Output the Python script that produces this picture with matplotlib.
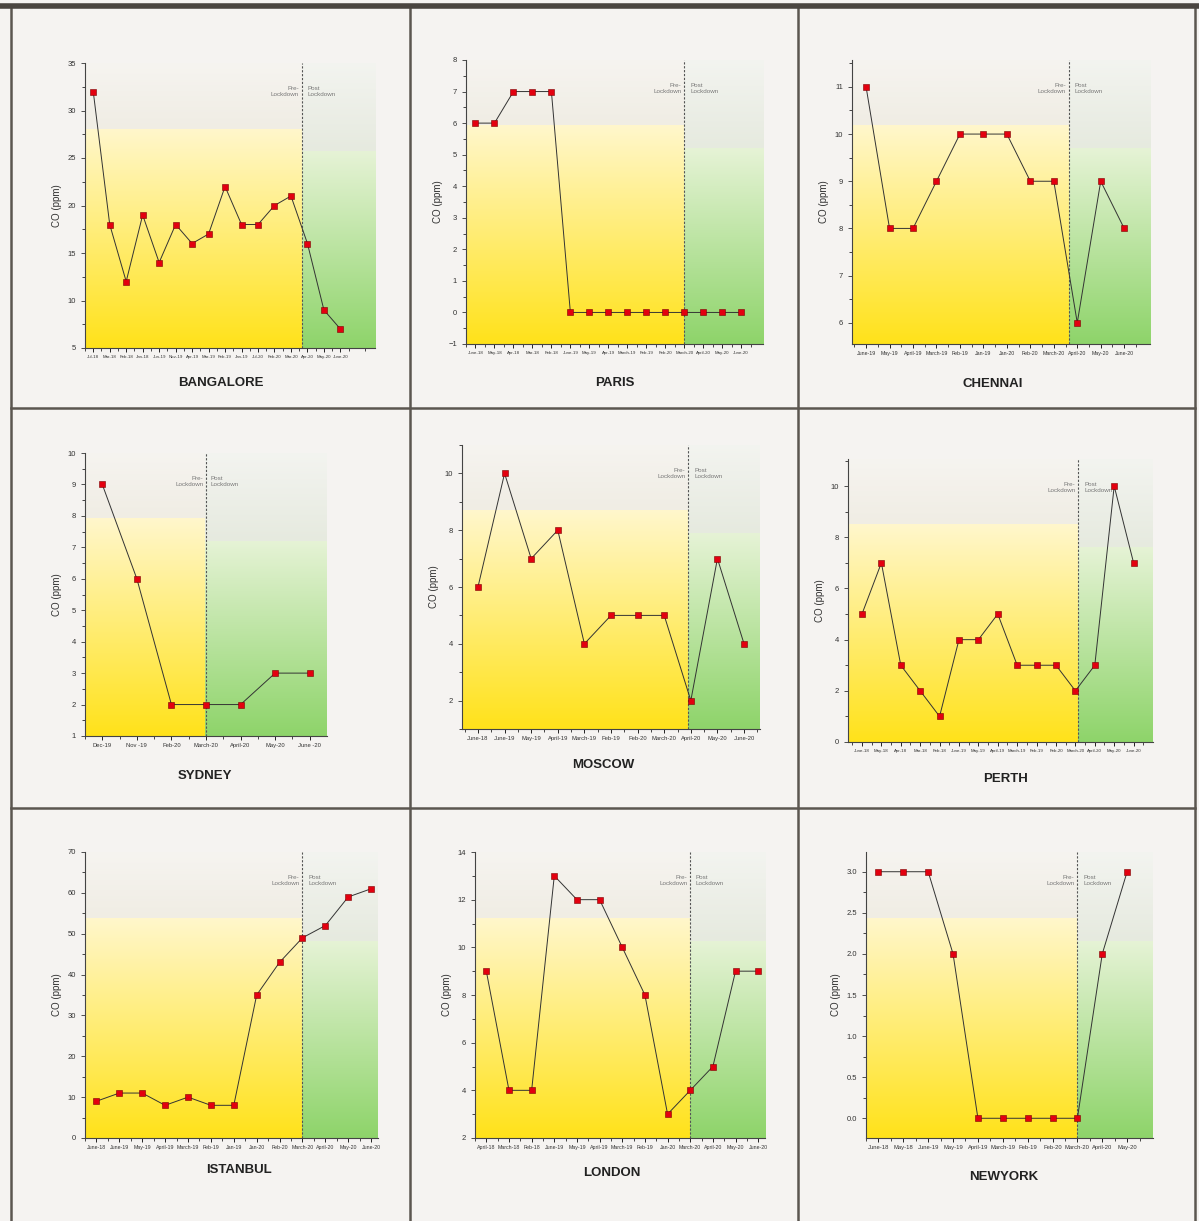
import numpy as np
import matplotlib
matplotlib.use("Agg")
import matplotlib.pyplot as plt
from matplotlib.lines import Line2D

plt.rcParams['font.family'] = ['Liberation Sans Narrow', 'Liberation Sans', 'DejaVu Sans']

W, H = 1199, 1221
BG = '#f5f3f1'

# ---- data per city ----
cities = ['BANGALORE', 'PARIS', 'CHENNAI',
          'SYDNEY', 'MOSCOW', 'PERTH',
          'ISTANBUL', 'LONDON', 'NEWYORK']

bangalore_labels = ['Jul-18', 'Mar-18', 'Feb-18', 'Jan-18', 'Jun-19', 'Nov-19', 'Apr-19', 'Mar-19',
                    'Feb-19', 'Jan-19', 'Jul-20', 'Feb-20', 'Mar-20', 'Apr-20', 'May-20', 'June-20']
bangalore_co = [32, 18, 12, 19, 14, 18, 16, 17, 22, 18, 18, 20, 21, 16, 9, 7]

paris_labels = ['June-18', 'May-18', 'Apr-18', 'Mar-18', 'Feb-18', 'June-19', 'May-19', 'Apr-19',
                'March-19', 'Feb-19', 'Feb-20', 'March-20', 'April-20', 'May-20', 'June-20']
paris_co = [6, 6, 7, 7, 7, 0, 0, 0, 0, 0, 0, 0, 0, 0, 0]

chennai_labels = ['June-19', 'May-19', 'April-19', 'March-19', 'Feb-19', 'Jan-19', 'Jan-20',
                  'Feb-20', 'March-20', 'April-20', 'May-20', 'June-20']
chennai_co = [11, 8, 8, 9, 10, 10, 10, 9, 9, 6, 9, 8]

sydney_labels = ['Dec-19', 'Nov -19', 'Feb-20', 'March-20', 'April-20', 'May-20', 'June -20']
sydney_co = [9, 6, 2, 2, 2, 3, 3]

moscow_labels = ['June-18', 'June-19', 'May-19', 'April-19', 'March-19', 'Feb-19', 'Feb-20',
                 'March-20', 'April-20', 'May-20', 'June-20']
moscow_co = [6, 10, 7, 8, 4, 5, 5, 5, 2, 7, 4]

perth_labels = ['June-18', 'May-18', 'Apr-18', 'Mar-18', 'Feb-18', 'June-19', 'May-19', 'April-19',
                'March-19', 'Feb-19', 'Feb-20', 'March-20', 'April-20', 'May-20', 'June-20']
perth_co = [5, 7, 3, 2, 1, 4, 4, 5, 3, 3, 3, 2, 3, 10, 7]

istanbul_labels = ['June-18', 'June-19', 'May-19', 'April-19', 'March-19', 'Feb-19', 'Jan-19',
                   'Jan-20', 'Feb-20', 'March-20', 'April-20', 'May-20', 'June-20']
istanbul_co = [9, 11, 11, 8, 10, 8, 8, 35, 43, 49, 52, 59, 61]

london_labels = ['April-18', 'March-18', 'Feb-18', 'June-19', 'May-19', 'April-19', 'March-19',
                 'Feb-19', 'Jan-20', 'March-20', 'April-20', 'May-20', 'June-20']
london_co = [9, 4, 4, 13, 12, 12, 10, 8, 3, 4, 5, 9, 9]

newyork_labels = ['June-18', 'May-18', 'June-19', 'May-19', 'April-19', 'March-19', 'Feb-19',
                  'Feb-20', 'March-20', 'April-20', 'May-20']
newyork_co = [3, 3, 3, 2, 0, 0, 0, 0, 0, 2, 3]

labels = [bangalore_labels, paris_labels, chennai_labels, sydney_labels, moscow_labels,
          perth_labels, istanbul_labels, london_labels, newyork_labels]
values = [bangalore_co, paris_co, chennai_co, sydney_co, moscow_co,
          perth_co, istanbul_co, london_co, newyork_co]

# lockdown position (in category index units)
lockdown = [12.67, 11, 8.64, 3, 7.9, 11.16, 9, 9, 8]

# ---- layout (pixels: left, top, right, bottom) ----
boxes = [(85, 63, 375, 348), (466, 60, 763, 344), (852, 60, 1150, 344),
         (85, 453, 327, 736), (462, 445, 760, 729), (848, 459, 1153, 742),
         (85, 852, 378, 1138), (475, 852, 765, 1138), (866, 852, 1153, 1138)]
xlims = [(-0.42, 17.1), (-0.42, 15.15), (-0.6, 12.1),
         (-0.46, 6.5), (-0.6, 10.6), (-0.72, 15.0),
         (-0.43, 12.3), (-0.4, 12.3), (-0.48, 11.04)]
ylims = [(5, 35), (-1, 8), (5.55, 11.57),
         (1, 10), (1, 11), (0, 11.06),
         (0, 70), (2, 14), (-0.24, 3.24)]
yticks = [np.arange(5, 36, 5), np.arange(-1, 9, 1), np.arange(6, 12, 1),
          np.arange(1, 11, 1), np.arange(2, 11, 2), np.arange(0, 11, 2),
          np.arange(0, 71, 10), np.arange(2, 15, 2), np.arange(0, 3.01, 0.5)]
title_y = [383, 383, 384, 776, 765, 779, 1170, 1173, 1177]
title_x = [221, 615, 993, 205, 603, 1005, 239, 612, 1004]


def gradient(c0, c1, n=256):
    c0 = np.array(matplotlib.colors.to_rgb(c0))
    c1 = np.array(matplotlib.colors.to_rgb(c1))
    t = np.linspace(0, 1, n)[:, None]
    return (c0 + (c1 - c0) * t)[:, None, :]


fig = plt.figure(figsize=(W / 100, H / 100), dpi=100, facecolor=BG)

for i in range(9):
    l, t, r, b = boxes[i]
    ax = fig.add_axes([l / W, 1 - b / H, (r - l) / W, (b - t) / H])
    ax.set_facecolor(BG)
    x = np.arange(len(values[i]))
    ax.set_xlim(*xlims[i])
    ax.set_ylim(*ylims[i])
    x0, x1 = xlims[i]
    fx = (lockdown[i] - x0) / (x1 - x0)

    # background shading
    ax.imshow(gradient('#ffe21a', '#fff7cc'), extent=[0, fx, 0, 0.77], transform=ax.transAxes,
              aspect='auto', origin='lower', zorder=0)
    ax.imshow(gradient('#f0ede4', '#f6f4f0'), extent=[0, fx, 0.77, 1], transform=ax.transAxes,
              aspect='auto', origin='lower', zorder=0)
    ax.imshow(gradient('#8ed46a', '#e6f3d6'), extent=[fx, 1, 0, 0.69], transform=ax.transAxes,
              aspect='auto', origin='lower', zorder=0)
    ax.imshow(gradient('#e6eadf', '#f3f4f0'), extent=[fx, 1, 0.69, 1], transform=ax.transAxes,
              aspect='auto', origin='lower', zorder=0)

    ax.axvline(lockdown[i], color='#555555', lw=0.8, ls=(0, (2, 1.5)), zorder=2)
    ytxt = ylims[i][0] + 0.9 * (ylims[i][1] - ylims[i][0])
    ax.text(lockdown[i] - 0.15 * (x1 - x0) / 15, ytxt,
            'Pre-\nLockdown', ha='right', va='center', fontsize=4.5, color='#777777', zorder=3)
    ax.text(lockdown[i] + 0.3 * (x1 - x0) / 15, ytxt,
            'Post\nLockdown', ha='left', va='center', fontsize=4.5, color='#777777', zorder=3)

    ax.plot(x, values[i], color='#333333', lw=0.7, zorder=4)
    ax.plot(x, values[i], ls='none', marker='s', ms=4.5, mfc='#e3000f', mec='#7a0000',
            mew=0.4, zorder=5)

    n = len(values[i])
    lab_size = 3.2 if n >= 15 else (3.8 if n >= 12 else 4.2)
    ax.set_xticks(x)
    ax.set_xticklabels(labels[i], fontsize=lab_size, color='#333333')
    half = np.arange(-0.5, x1, 0.5)
    ax.set_xticks(half[(half % 1) != 0], minor=True)
    ax.set_yticks(yticks[i])
    if i == 8:
        ax.set_yticklabels(['%.1f' % v for v in yticks[i]])
    ax.tick_params(axis='y', labelsize=5.5, colors='#333333', length=3, width=0.6)
    ax.tick_params(axis='x', length=3, width=0.6, pad=2)
    ax.tick_params(axis='x', which='minor', length=2, width=0.5)
    ax.yaxis.set_minor_locator(matplotlib.ticker.AutoMinorLocator(2))
    ax.tick_params(axis='y', which='minor', length=2, width=0.5)
    ax.set_ylabel('CO (ppm)', fontsize=7, color='#333333', labelpad=4)
    for s in ['top', 'right']:
        ax.spines[s].set_visible(False)
    for s in ['left', 'bottom']:
        ax.spines[s].set_color('#444444')
        ax.spines[s].set_linewidth(0.8)

    fig.text(title_x[i] / W, 1 - title_y[i] / H, cities[i], ha='center', va='center',
             fontsize=9.5, fontweight='bold', color='#222222')

# panel frames
frame = '#5b5650'
for xp in [11, 410, 798, 1195]:
    fig.add_artist(Line2D([xp / W, xp / W], [0, 1 - 8 / H], color=frame, lw=1.8))
for yp in [408, 808]:
    fig.add_artist(Line2D([11 / W, 1195 / W], [1 - yp / H, 1 - yp / H], color=frame, lw=1.8))
fig.add_artist(Line2D([0, 1], [1 - 6 / H, 1 - 6 / H], color='#4a4540', lw=4))

fig.savefig('out.png', dpi=100, facecolor=BG)
